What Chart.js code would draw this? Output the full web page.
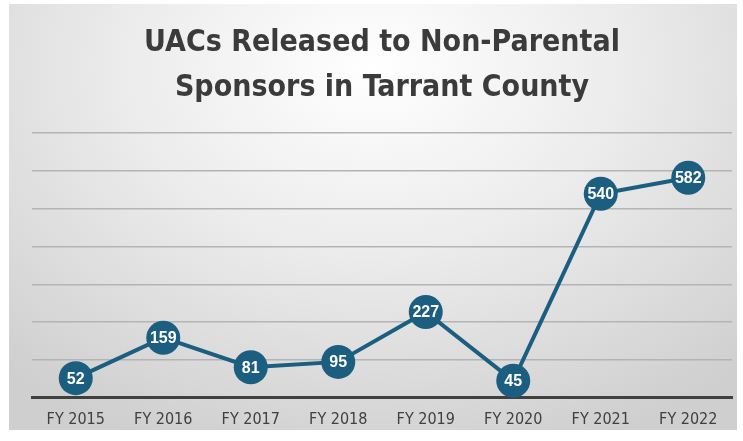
<!DOCTYPE html>
<html>
<head>
<meta charset="utf-8">
<script src="https://cdn.jsdelivr.net/npm/chart.js@4"></script>
<style>
  html, body { margin: 0; padding: 0; background: #ffffff; }
  #wrap { position: relative; width: 743px; height: 441px; }
  #panel {
    position: absolute; left: 9px; top: 4px; width: 728px; height: 426px;
    background: radial-gradient(ellipse 75% 95% at 50% 15%, #ffffff 0%, #ececec 45%, #cfcfcf 100%);
  }
  #chart { position: absolute; left: 0; top: 0; }
</style>
</head>
<body>
<div id="wrap">
  <div id="panel"></div>
  <canvas id="chart" width="743" height="441"></canvas>
</div>
<script>
// data
const years = ['FY 2015', 'FY 2016', 'FY 2017', 'FY 2018', 'FY 2019', 'FY 2020', 'FY 2021', 'FY 2022'];
const released = [52, 159, 81, 95, 227, 45, 540, 582];
const titleLines = ['UACs Released to Non-Parental', 'Sponsors in Tarrant County'];

const lineColor = '#1c5e7f';
const condensed = '"Liberation Sans Narrow", "DejaVu Sans Condensed", sans-serif';

// writes the value in the middle of each circle
const valueLabels = {
  id: 'valueLabels',
  afterDatasetsDraw(chart) {
    const ctx = chart.ctx;
    const meta = chart.getDatasetMeta(0);
    ctx.save();
    ctx.fillStyle = '#ffffff';
    ctx.font = 'bold 16px "Liberation Sans", Arial, sans-serif';
    ctx.textAlign = 'center';
    ctx.textBaseline = 'middle';
    meta.data.forEach((pt, i) => {
      ctx.fillText(String(released[i]), pt.x, pt.y + 1);
    });
    ctx.restore();
  }
};

new Chart(document.getElementById('chart'), {
  type: 'line',
  data: {
    labels: years,
    datasets: [{
      data: released,
      borderColor: lineColor,
      backgroundColor: lineColor,
      borderWidth: 4,
      pointRadius: 17,
      pointHoverRadius: 17,
      pointBorderWidth: 0,
      tension: 0,
      clip: false
    }]
  },
  options: {
    responsive: false,
    animation: false,
    layout: { autoPadding: false, padding: { left: 32, right: 11, top: 20, bottom: 0 } },
    plugins: {
      legend: { display: false },
      tooltip: { enabled: false },
      title: {
        display: true,
        text: titleLines,
        color: '#3b3b3b',
        font: { family: condensed, size: 30, weight: 'bold', lineHeight: 1.52 },
        padding: { top: 0, bottom: 22 }
      }
    },
    scales: {
      x: {
        offset: true,
        grid: { display: false, drawTicks: false },
        border: { display: true, color: '#404040', width: 3 },
        ticks: { color: '#404040', padding: 12, font: { family: condensed, size: 16 } }
      },
      y: {
        min: 0,
        max: 700,
        ticks: { display: false, stepSize: 100 },
        grid: { color: '#b4b4b4', lineWidth: 1.5, drawTicks: false },
        border: { display: false }
      }
    }
  },
  plugins: [valueLabels]
});
</script>
</body>
</html>
